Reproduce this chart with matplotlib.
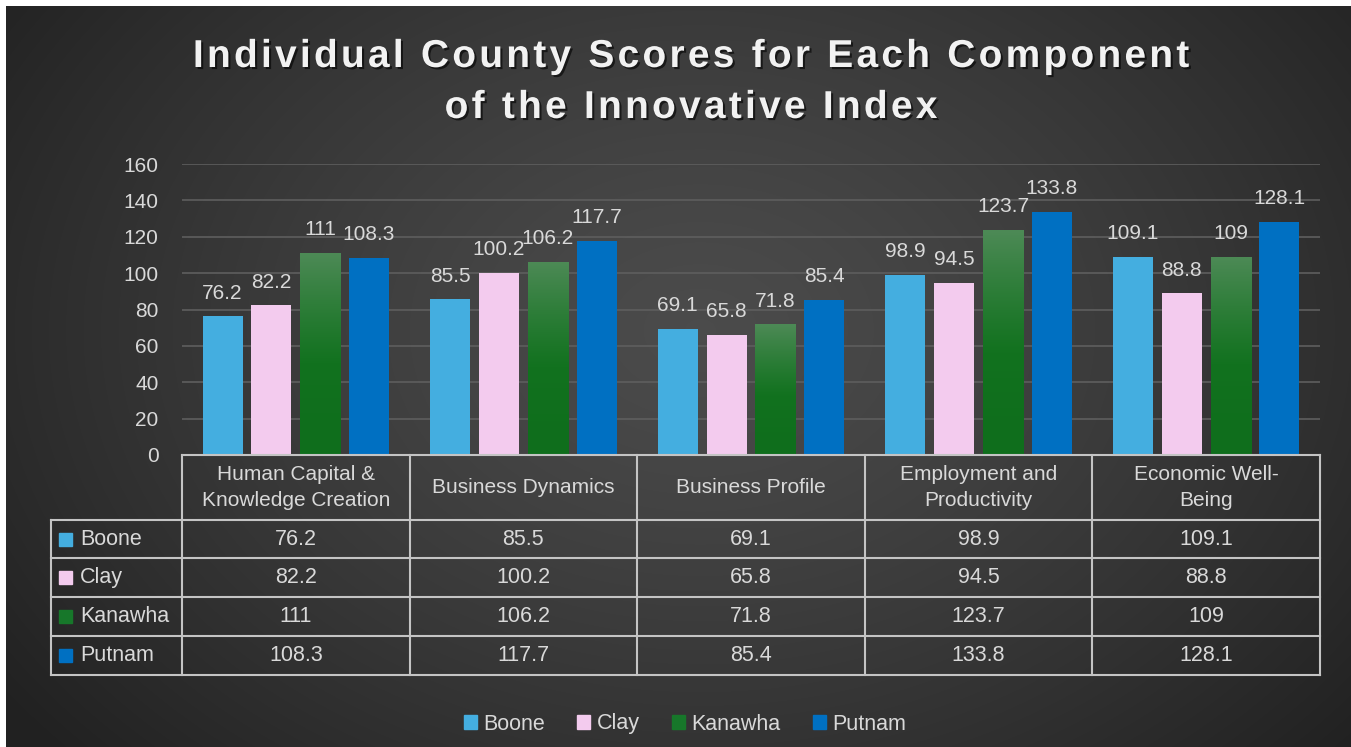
import numpy as np
import matplotlib
matplotlib.use("Agg")
import matplotlib.pyplot as plt
import matplotlib.patheffects as pe
from matplotlib.patches import Rectangle, Patch
from matplotlib.transforms import blended_transform_factory

# ---------------- data ----------------
categories = ["Human Capital &\nKnowledge Creation", "Business Dynamics",
              "Business Profile", "Employment and\nProductivity", "Economic Well-\nBeing"]
counties = ["Boone", "Clay", "Kanawha", "Putnam"]
boone = [76.2, 85.5, 69.1, 98.9, 109.1]
clay = [82.2, 100.2, 65.8, 94.5, 88.8]
kanawha = [111, 106.2, 71.8, 123.7, 109]
putnam = [108.3, 117.7, 85.4, 133.8, 128.1]
labels_txt = {
    "Boone": ["76.2", "85.5", "69.1", "98.9", "109.1"],
    "Clay": ["82.2", "100.2", "65.8", "94.5", "88.8"],
    "Kanawha": ["111", "106.2", "71.8", "123.7", "109"],
    "Putnam": ["108.3", "117.7", "85.4", "133.8", "128.1"],
}
yticks = [0, 20, 40, 60, 80, 100, 120, 140, 160]
title = "Individual County Scores for Each Component\nof the Innovative Index"

series = [boone, clay, kanawha, putnam]
colors = ["#44aee0", "#f3cbee", "#17772a", "#0070c2"]
txtc = "#d9d9d9"
FONT = ["Liberation Sans", "DejaVu Sans"]
plt.rcParams["font.family"] = FONT

W, H = 1351, 747
fig = plt.figure(figsize=(W / 100, H / 100), dpi=100)

# ---------------- background ----------------
bg = fig.add_axes([0, 0, 1, 1], zorder=-10)
yy, xx = np.mgrid[0:H, 0:W]
r = np.sqrt(((xx - 700) / 760.0) ** 2 + ((yy - 330) / 560.0) ** 2)
val = np.clip(0.295 - 0.14 * r ** 1.3, 0.13, 0.3)
img = np.dstack([val, val, val])
img[:6, :, :] = 1.0
img[:, :6, :] = 1.0
bg.imshow(img, aspect="auto", extent=(0, W, H, 0), interpolation="bilinear")
bg.set_xlim(0, W)
bg.set_ylim(H, 0)
bg.axis("off")

# ---------------- bar axes ----------------
L, R, B, T = 182, 1320, 455, 164
ax = fig.add_axes([L / W, 1 - B / H, (R - L) / W, (B - T) / H])
ax.set_facecolor("none")
ax.set_xlim(-0.5, len(categories) - 0.5)
ax.set_ylim(0, 160)
ax.set_yticks(yticks)
ax.tick_params(axis="y", length=0, pad=17, labelsize=15, labelcolor=txtc)
ax.set_xticks([])
for s in ax.spines.values():
    s.set_visible(False)
ax.grid(axis="y", color="#5e5e5e", lw=1.2)
ax.set_axisbelow(True)

x = np.arange(len(categories))
bw = 0.176
step = 0.2145
offs = (np.arange(4) - 1.5) * step
green_cmap = matplotlib.colors.LinearSegmentedColormap.from_list(
    "g", ["#0f6e1c", "#12721f", "#2f7e3a", "#4d8a56"])
for k, (name, vals, col) in enumerate(zip(counties, series, colors)):
    bars = ax.bar(x + offs[k], vals, width=bw, color=col, zorder=3)
    if name == "Kanawha":
        for b in bars:
            x0, x1 = b.get_x(), b.get_x() + b.get_width()
            h = b.get_height()
            grad = np.linspace(0, 1, 256).reshape(-1, 1) ** 1.4
            im = ax.imshow(grad, extent=(x0, x1, 0, h), origin="lower", aspect="auto",
                           cmap=green_cmap, zorder=3.5)
            im.set_clip_path(b)
    for xi, v, t in zip(x + offs[k], vals, labels_txt[name]):
        ax.annotate(t, (xi, v), xytext=(0, 10), textcoords="offset points",
                    ha="center", va="bottom", fontsize=15, color=txtc, zorder=5)
ax.set_xlim(-0.5, len(categories) - 0.5)
ax.set_ylim(0, 160)

# ---------------- data table ----------------
tr = blended_transform_factory(ax.transData, ax.transAxes)
axh = B - T
def fy(py):
    return (B - py) / axh
row_y = [455, 520, 558.3, 597.3, 636, 674.5]
lcol_left = -0.5 - (L - 51) / ((R - L) / len(categories))
lc = "#c4c4c4"
lw = 1.5
n = len(categories)
# horizontal lines
ax.plot([-0.5, n - 0.5], [fy(row_y[0])] * 2, transform=tr, color=lc, lw=lw, clip_on=False, zorder=6)
for py in row_y[1:]:
    ax.plot([lcol_left, n - 0.5], [fy(py)] * 2, transform=tr, color=lc, lw=lw, clip_on=False, zorder=6)
# vertical lines
for i in range(n + 1):
    ax.plot([i - 0.5] * 2, [fy(row_y[0]), fy(row_y[-1])], transform=tr, color=lc, lw=lw,
            clip_on=False, zorder=6)
ax.plot([lcol_left] * 2, [fy(row_y[1]), fy(row_y[-1])], transform=tr, color=lc, lw=lw,
        clip_on=False, zorder=6)
# header text
for i, c in enumerate(categories):
    ax.text(i, fy((row_y[0] + row_y[1]) / 2), c, transform=tr, ha="center", va="center",
            fontsize=15, color=txtc, linespacing=1.45, clip_on=False)
# rows
sq = 13 / ((R - L) / n)
for k, name in enumerate(counties):
    yc = fy((row_y[k + 1] + row_y[k + 2]) / 2)
    for i, t in enumerate(labels_txt[name]):
        ax.text(i, yc, t, transform=tr, ha="center", va="center", fontsize=15.5,
                color=txtc, clip_on=False)
    sx = lcol_left + 8 / ((R - L) / n)
    ax.add_patch(Rectangle((sx, yc - 6.5 / axh), sq, 13 / axh, transform=tr,
                           color=colors[k], clip_on=False, zorder=6))
    ax.text(sx + sq + 8 / ((R - L) / n), yc, name, transform=tr, ha="left", va="center",
            fontsize=15.5, color=txtc, clip_on=False)

# ---------------- legend ----------------
handles = [Patch(color=c, label=nm) for c, nm in zip(colors, counties)]
leg = fig.legend(handles=handles, loc="center", bbox_to_anchor=(0.507, 1 - 724 / H), ncol=4,
                 frameon=False, fontsize=15.5, labelcolor=txtc, handlelength=0.6,
                 handleheight=0.6, handletextpad=0.3, columnspacing=1.5)

# ---------------- title ----------------
hs = "\u200a"
for j, line in enumerate(title.split("\n")):
    spaced = hs.join(list(line))
    fig.text(691 / W, 1 - (57 + 51 * j) / H, spaced, ha="center", va="center",
             fontsize=28, fontweight="bold", color="#f2f2f2", family=FONT,
             path_effects=[pe.withSimplePatchShadow(offset=(1.5, -1.5), shadow_rgbFace="black",
                                                     alpha=0.6)])

fig.savefig("out.png", dpi=100)
